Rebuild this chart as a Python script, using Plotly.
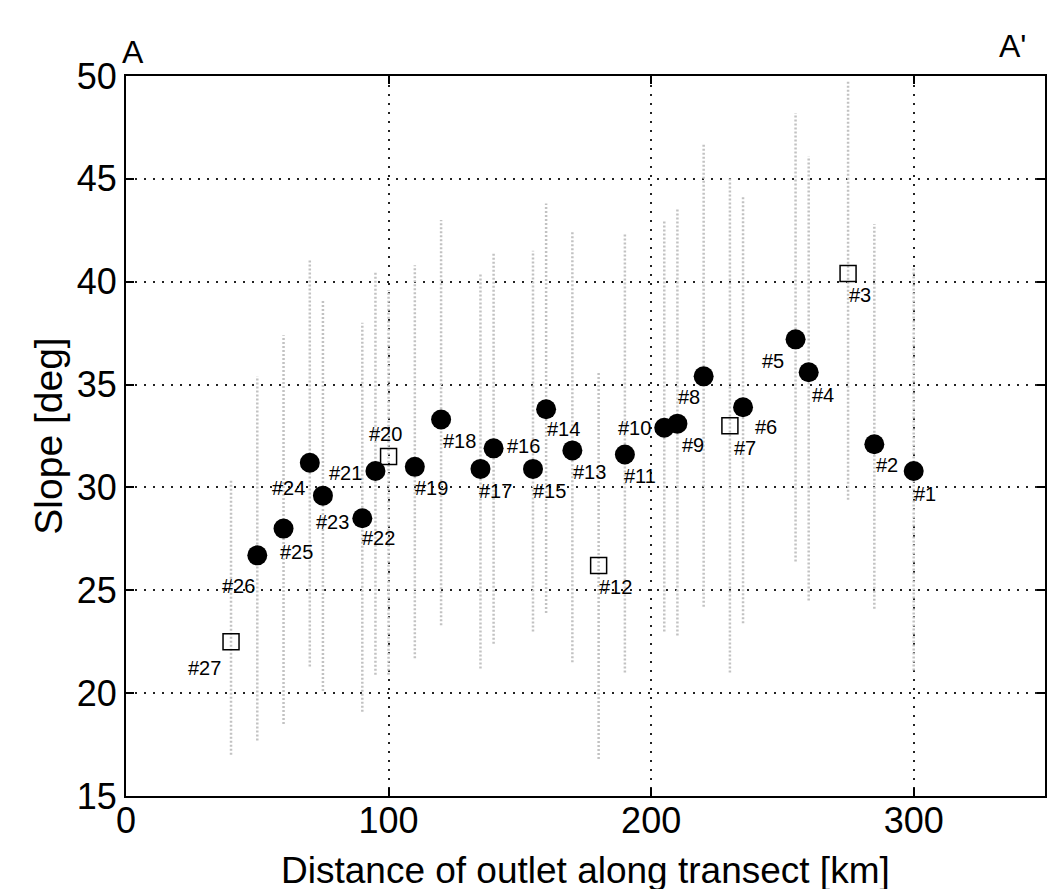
import plotly.graph_objects as go

# ---- data ----
site_ids = list(range(1, 28))
distance_km = [300, 285, 275, 260, 255, 235, 230, 220, 210, 205, 190, 180, 170, 160,
               155, 140, 135, 120, 110, 100, 95, 90, 75, 70, 60, 50, 40]
slope_deg = [30.8, 32.1, 40.4, 35.6, 37.2, 33.9, 33.0, 35.4, 33.1, 32.9, 31.6, 26.2, 31.8, 33.8,
             30.9, 31.9, 30.9, 33.3, 31.0, 31.5, 30.8, 28.5, 29.6, 31.2, 28.0, 26.7, 22.5]
range_top = [40.7, 42.8, 49.8, 46.1, 48.2, 44.2, 45.1, 46.7, 43.6, 43.0, 42.3, 35.6, 42.4, 43.8,
             41.5, 41.4, 40.4, 43.0, 40.8, 39.6, 40.5, 38.0, 39.1, 41.1, 37.4, 35.4, 30.4]
range_bottom = [21.1, 24.1, 29.4, 24.5, 26.4, 23.4, 21.0, 24.2, 22.8, 23.0, 21.0, 16.8, 21.5, 23.9,
                23.0, 22.4, 21.2, 23.3, 21.7, 20.9, 20.9, 19.1, 20.1, 21.3, 18.5, 17.7, 17.0]
open_sites = [3, 7, 12, 20, 27]
x_ticks = [0, 100, 200, 300]
y_ticks = [15, 20, 25, 30, 35, 40, 45, 50]
x_title = "Distance of outlet along transect [km]"
y_title = "Slope [deg]"

# label offsets in pixels (dx right, dy down) -- styling only
label_offsets = {
    1: (11, 23), 2: (13, 21), 3: (12, 22), 4: (14, 23), 5: (-23, 22), 6: (23, 20),
    7: (15, 22), 8: (-15, 21), 9: (16, 21), 10: (-30, 0), 11: (15, 21), 12: (17, 21),
    13: (17, 22), 14: (17, 20), 15: (17, 22), 16: (30, -2), 17: (15, 22), 18: (18, 21),
    19: (17, 21), 20: (-3, -23), 21: (-30, 2), 22: (16, 20), 23: (10, 26), 24: (-21, 25),
    25: (13, 23), 26: (-19, 31), 27: (-27, 26),
}

FONT = "Liberation Sans, Arial, Helvetica, sans-serif"

fig = go.Figure()

# gray range bars
bx, by = [], []
for d, t, b in zip(distance_km, range_top, range_bottom):
    bx += [d, d, None]
    by += [b, t, None]
fig.add_trace(go.Scatter(x=bx, y=by, mode="lines",
                         line=dict(color="#c2c2c2", width=2.5, dash="2px,2px"),
                         hoverinfo="skip", showlegend=False))

fx = [d for i, d in zip(site_ids, distance_km) if i not in open_sites]
fy = [s for i, s in zip(site_ids, slope_deg) if i not in open_sites]
ox = [d for i, d in zip(site_ids, distance_km) if i in open_sites]
oy = [s for i, s in zip(site_ids, slope_deg) if i in open_sites]

fig.add_trace(go.Scatter(x=fx, y=fy, mode="markers",
                         marker=dict(symbol="circle", size=20, color="black"),
                         showlegend=False))
fig.add_trace(go.Scatter(x=ox, y=oy, mode="markers",
                         marker=dict(symbol="square-open", size=16, color="black",
                                     line=dict(width=1.5, color="black")),
                         showlegend=False))

for i, d, s in zip(site_ids, distance_km, slope_deg):
    dx, dy = label_offsets[i]
    fig.add_annotation(x=d, y=s, text=f"#{i}", showarrow=False,
                       xshift=dx, yshift=-dy, xanchor="center", yanchor="middle",
                       font=dict(family=FONT, size=20, color="black"))

fig.add_annotation(xref="paper", yref="paper", x=0.008, y=1.033, text="A",
                   showarrow=False, xanchor="center", yanchor="middle",
                   font=dict(family=FONT, size=32, color="black"))
fig.add_annotation(xref="paper", yref="paper", x=0.965, y=1.042, text="A'",
                   showarrow=False, xanchor="center", yanchor="middle",
                   font=dict(family=FONT, size=32, color="black"))

# x-axis title placed as annotation so it sits close under the tick labels
fig.add_annotation(xref="paper", yref="paper", x=0.5, y=-0.104, text=x_title,
                   showarrow=False, xanchor="center", yanchor="middle",
                   font=dict(family=FONT, size=37, color="black"))

axis_common = dict(
    showline=True, linecolor="black", linewidth=2, mirror="ticks",
    ticks="inside", ticklen=8, tickwidth=1.5, tickcolor="black",
    showgrid=True, gridcolor="#222222", gridwidth=1.5, griddash="2px,7px",
    zeroline=False, tickfont=dict(family=FONT, size=36, color="black"),
)

fig.update_xaxes(range=[0, 350], tickvals=x_ticks, ticktext=[str(v) for v in x_ticks],
                 ticklabelstandoff=-8, **axis_common)
fig.update_yaxes(range=[15, 50], tickvals=y_ticks, ticktext=[str(v) for v in y_ticks],
                 title=dict(text=y_title, standoff=2,
                            font=dict(family=FONT, size=39, color="black")),
                 **axis_common)

fig.update_layout(
    width=1062, height=889,
    margin=dict(l=118, r=25, t=68, b=101),
    plot_bgcolor="white", paper_bgcolor="white",
    showlegend=False,
)

fig.write_html("out.html")
